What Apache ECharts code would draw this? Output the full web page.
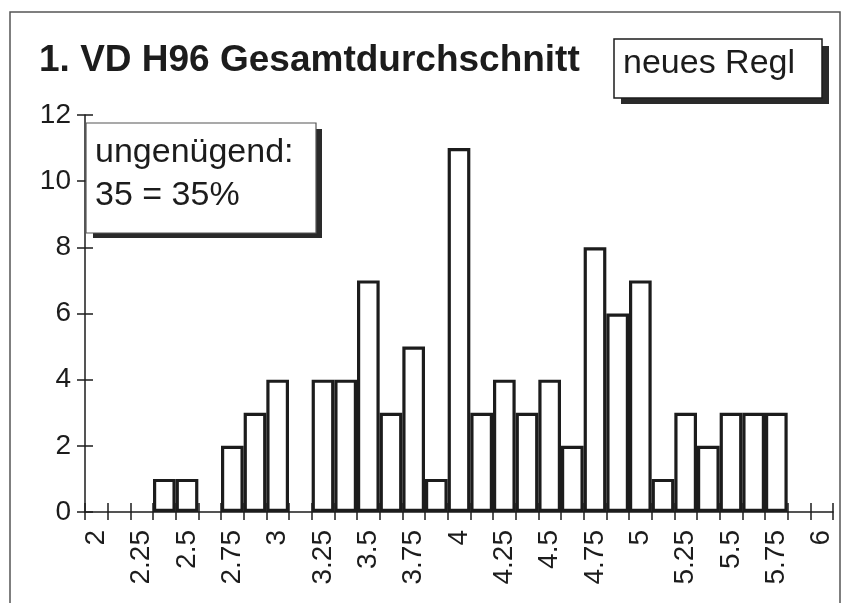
<!DOCTYPE html>
<html>
<head>
<meta charset="utf-8">
<script src="https://cdn.jsdelivr.net/npm/echarts@6/dist/echarts.min.js"></script>
<style>
html,body{margin:0;padding:0;background:#fff;}
#c{width:843px;height:603px;}
</style>
</head>
<body>
<div id="c"></div>
<script>
const categories = ['2','2.125','2.25','2.375','2.5','2.625','2.75','2.875','3','3.125','3.25','3.375','3.5','3.625','3.75','3.875','4','4.125','4.25','4.375','4.5','4.625','4.75','4.875','5','5.125','5.25','5.375','5.5','5.625','5.75','5.875','6'];
const counts = [0,0,0,1,1,0,2,3,4,0,4,4,7,3,5,1,11,3,4,3,4,2,8,6,7,1,3,2,3,3,3,0,0];
const yTicks = {min:0, max:12, interval:2};
const titleText = '1. VD H96 Gesamtdurchschnitt';
const boxLabel = 'neues Regl';
const noteLines = ['ungenügend:', '35 = 35%'];

const FONT = "'Liberation Sans', Arial, sans-serif";
const INK = '#1c1c1c';
const chart = echarts.init(document.getElementById('c'), null, {renderer:'canvas'});
const gridBox = {left:85, right:10, top:115, bottom:91};
// empty classes are not drawn as bars
const barData = counts.map(v => (v === 0 ? '-' : v));

chart.setOption({
  animation:false,
  backgroundColor:'#fff',
  title:{text:titleText, left:34, top:37, textStyle:{fontFamily:FONT, fontSize:37, fontWeight:'bold', color:INK}},
  grid:[Object.assign({},gridBox), Object.assign({},gridBox)],
  xAxis:[
    {type:'category', gridIndex:0, data:categories, boundaryGap:true,
     axisLine:{lineStyle:{color:INK, width:1.5}},
     axisTick:{show:true, interval:0, length:8, lineStyle:{color:INK, width:1.5}},
     axisLabel:{interval:1, rotate:90, margin:18, fontFamily:FONT, fontSize:28, color:INK},
     splitLine:{show:false}},
    {type:'category', gridIndex:1, data:categories, boundaryGap:true,
     axisLine:{show:false},
     axisTick:{show:true, inside:true, interval:0, length:9, lineStyle:{color:INK, width:1.5}},
     axisLabel:{show:false}, splitLine:{show:false}}
  ],
  yAxis:[
    {type:'value', gridIndex:0, min:yTicks.min, max:yTicks.max, interval:yTicks.interval,
     axisLine:{show:true, lineStyle:{color:INK, width:1.5}},
     axisTick:{show:true, length:8, lineStyle:{color:INK, width:1.5}},
     axisLabel:{margin:14, fontFamily:FONT, fontSize:28, color:INK},
     splitLine:{show:false}},
    {type:'value', gridIndex:1, min:yTicks.min, max:yTicks.max, interval:yTicks.interval,
     axisLine:{show:false},
     axisTick:{show:true, inside:true, length:8, lineStyle:{color:INK, width:1.5}},
     axisLabel:{show:false}, splitLine:{show:false}}
  ],
  series:[{
    type:'bar', xAxisIndex:0, yAxisIndex:0, data:barData,
    barCategoryGap:'0%',
    itemStyle:{color:'#fff', borderColor:INK, borderWidth:3.2},
    silent:true
  }],
  graphic:[
    {type:'rect', shape:{x:10, y:12, width:830, height:620}, style:{fill:null, stroke:'#555', lineWidth:1.5}, z:0},
    // neues Regl box
    {type:'rect', shape:{x:621, y:46, width:208, height:58}, style:{fill:'#2a2a2a'}, z:10},
    {type:'rect', shape:{x:614, y:39, width:208, height:59}, style:{fill:'#fff', stroke:INK, lineWidth:1.5}, z:11},
    {type:'text', left:623, top:47, style:{text:boxLabel, font:'34px '+FONT, fill:INK}, z:12},
    // ungenügend box
    {type:'rect', shape:{x:93, y:129, width:229, height:109}, style:{fill:'#2a2a2a'}, z:10},
    {type:'rect', shape:{x:86, y:123, width:230, height:110}, style:{fill:'#fff', stroke:'#555', lineWidth:1.2}, z:11},
    {type:'text', left:95, top:131, style:{text:noteLines.join('\n'), font:'34px '+FONT, lineHeight:43, fill:INK}, z:12}
  ]
});
</script>
</body>
</html>
